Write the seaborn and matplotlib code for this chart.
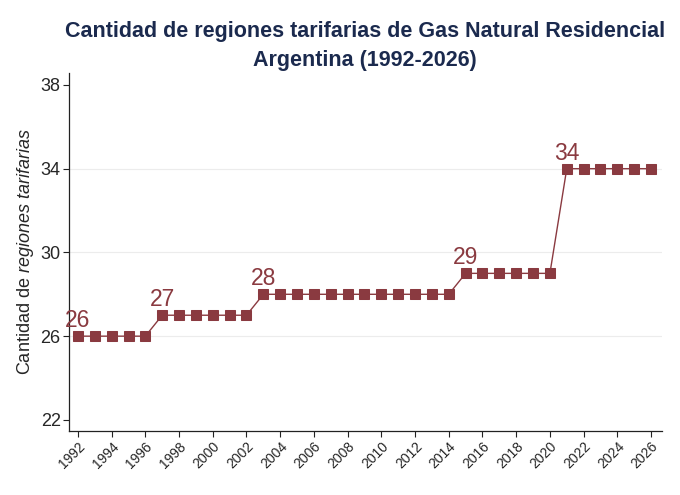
import matplotlib
matplotlib.use("Agg")
import matplotlib.pyplot as plt
import seaborn as sns
import pandas as pd

sns.set_theme(style="white")
plt.rcParams["font.family"] = ["Liberation Sans", "DejaVu Sans"]
plt.rcParams["mathtext.fontset"] = "custom"
plt.rcParams["mathtext.rm"] = "Liberation Sans"
plt.rcParams["mathtext.it"] = "Liberation Sans:italic"

# data
years = list(range(1992, 2027))
regions = [26] * 5 + [27] * 6 + [28] * 12 + [29] * 6 + [34] * 6
label_years = [1992, 1997, 2003, 2015, 2021]
xticks = list(range(1992, 2027, 2))
yticks = [22, 26, 30, 34, 38]

df = pd.DataFrame({"year": years, "regiones": regions})

maroon = "#8a3a40"
navy = "#1b2a4e"

fig = plt.figure(figsize=(6.8, 4.95), dpi=100)
ax = fig.add_axes([69 / 680, 64 / 495, 593 / 680, 358 / 495])

for y in [26, 30, 34]:
    ax.axhline(y, color="#ececec", lw=0.8, zorder=0)

sns.lineplot(data=df, x="year", y="regiones", ax=ax, color=maroon, lw=1.0,
             marker="s", markersize=7.5, markeredgecolor=maroon, zorder=3)

for yr in label_years:
    v = df.loc[df["year"] == yr, "regiones"].iloc[0]
    ax.annotate(str(v), (yr, v), xytext=(0, 3), textcoords="offset points",
                ha="center", va="bottom", fontsize=16.5, color=maroon)

ax.set_xlim(1991.47, 2026.65)
ax.set_ylim(21.47, 38.57)
ax.set_xticks(xticks)
ax.set_xticklabels([str(t) for t in xticks], rotation=45, ha="right",
                   rotation_mode="anchor", fontsize=10)
ax.set_yticks(yticks)
ax.set_yticklabels([str(t) for t in yticks], fontsize=13)
ax.tick_params(axis="both", direction="out", length=4, width=0.8,
               color="#222222", left=True, bottom=True, pad=2)
ax.set_xlabel("")
ax.set_ylabel(r"Cantidad de $\it{regiones\ tarifarias}$", fontsize=13,
              labelpad=3)

for side in ["top", "right"]:
    ax.spines[side].set_visible(False)
for side in ["left", "bottom"]:
    ax.spines[side].set_color("#222222")
    ax.spines[side].set_linewidth(0.9)

fig.text(0.537, 0.937, "Cantidad de regiones tarifarias de Gas Natural Residencial",
         ha="center", va="center", fontsize=15.5, fontweight="bold", color=navy)
fig.text(0.537, 0.878, "Argentina (1992-2026)", ha="center", va="center",
         fontsize=15.5, fontweight="bold", color=navy)

fig.savefig("out.png", dpi=100)
